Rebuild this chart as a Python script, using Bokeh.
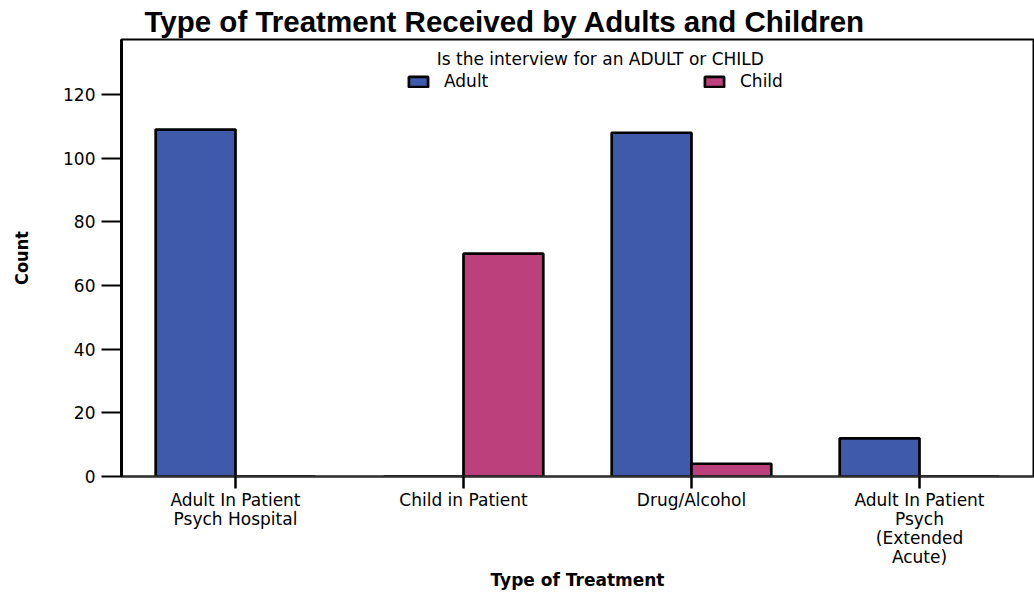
from bokeh.plotting import figure
from bokeh.models import (ColumnDataSource, FactorRange, Range1d, FixedTicker,
                          Legend, LegendItem, Label)
from bokeh.transform import dodge
from bokeh.embed import file_html
from bokeh.resources import INLINE

# ---- data ----
tick_labels = ["Adult In Patient\nPsych Hospital", "Child in Patient",
               "Drug/Alcohol", "Adult In Patient\nPsych\n(Extended\nAcute)"]
adult = [109, 0, 108, 12]
child = [0, 70, 4, 0]
y_ticks = [0, 20, 40, 60, 80, 100, 120]
series_names = ["Adult", "Child"]

ADULT_C = "#3F59AB"
CHILD_C = "#BB407C"
TXT = "DejaVu Sans"

src = ColumnDataSource(dict(cat=tick_labels, adult=adult, child=child))

p = figure(width=1034, height=592, output_backend="svg", toolbar_location=None,
           x_range=FactorRange(factors=tick_labels, range_padding=0),
           y_range=Range1d(0, 137.3),
           min_border_left=121, min_border_right=1, min_border_top=39,
           min_border_bottom=0)

p.title.text = "Type of Treatment Received by Adults and Children"
p.title.text_font = "Liberation Sans"
p.title.text_font_size = "29.5px"
p.title.text_font_style = "bold"
p.title.text_color = "black"
p.title.align = "left"
p.title.offset = 23
p.title.standoff = 4

r_adult = p.vbar(x=dodge("cat", -0.175, range=p.x_range), top="adult", width=0.35,
                 source=src, fill_color=ADULT_C, line_color="black", line_width=2.7)
r_child = p.vbar(x=dodge("cat", 0.175, range=p.x_range), top="child", width=0.35,
                 source=src, fill_color=CHILD_C, line_color="black", line_width=2.7)

p.xgrid.visible = False
p.ygrid.visible = False
p.outline_line_color = "black"
p.outline_line_width = 2
p.background_fill_color = "white"
p.border_fill_color = "white"

# y axis
ya = p.yaxis[0]
ya.ticker = FixedTicker(ticks=y_ticks)
ya.minor_tick_line_color = None
ya.major_tick_out = 20
ya.major_tick_in = 0
ya.major_tick_line_width = 2
ya.major_tick_line_color = "black"
ya.axis_line_width = 3
ya.axis_line_color = "black"
ya.major_label_text_font = TXT
ya.major_label_text_font_size = "17px"
ya.major_label_text_color = "black"
ya.major_label_standoff = 6
ya.axis_label = "Count"
ya.axis_label_text_font = "'DejaVu Sans Condensed', 'Liberation Sans'"
ya.axis_label_text_font_style = "bold"
ya.axis_label_text_font_size = "18px"
ya.axis_label_text_color = "black"
ya.axis_label_standoff = 28

# x axis
xa = p.xaxis[0]
xa.major_tick_out = 12
xa.major_tick_in = 0
xa.major_tick_line_width = 2.5
xa.major_tick_line_color = "black"
xa.axis_line_width = 2
xa.axis_line_color = "#333333"
xa.major_label_text_font = TXT
xa.major_label_text_font_size = "17px"
xa.major_label_text_line_height = 0.95
xa.major_label_text_color = "black"
xa.major_label_standoff = 1
xa.major_label_orientation = "horizontal"
xa.axis_label = "Type of Treatment"
xa.axis_label_text_font = TXT
xa.axis_label_text_font_style = "bold"
xa.axis_label_text_font_size = "17px"
xa.axis_label_text_color = "black"
xa.axis_label_standoff = 0

# legend title (as label) and legend
p.add_layout(Label(x=2.1, y=131.3, text="Is the interview for an ADULT or CHILD",
                   text_align="center", text_baseline="middle",
                   text_font=TXT, text_font_size="17px", text_color="black"))

legend = Legend(items=[LegendItem(label=series_names[0], renderers=[r_adult]),
                       LegendItem(label=series_names[1], renderers=[r_child])],
                orientation="horizontal", location=(285, 385),
                glyph_width=24, glyph_height=13, label_standoff=14,
                label_width=257, spacing=1, padding=0, margin=0,
                border_line_color=None, background_fill_alpha=0,
                label_text_font=TXT, label_text_font_size="17px",
                label_text_color="black")
p.add_layout(legend)

open("out.html", "w").write(file_html(p, INLINE))
